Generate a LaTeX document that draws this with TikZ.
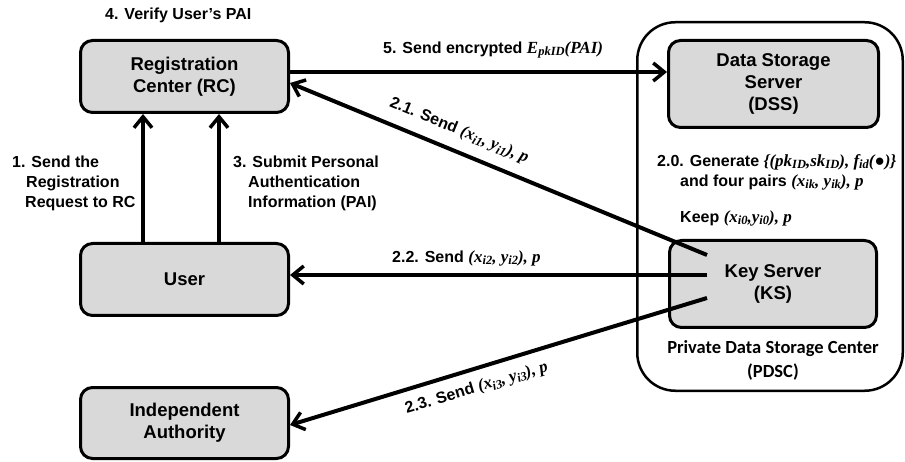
\documentclass[tikz,border=0pt]{standalone}
\usepackage{fontspec}
\setmainfont{Liberation Sans}
\newfontfamily\tms{Liberation Serif}
\newfontfamily\calib{Carlito}[BoldFont={Carlito Bold}]
\usetikzlibrary{arrows.meta,calc}
\definecolor{boxgray}{HTML}{D9D9D9}
\newcommand\mth[1]{{\tms\bfseries\itshape\fontsize{17}{20}\selectfont #1}}
\newcommand\sbx[1]{\raisebox{-0.35ex}{\fontsize{12.5}{12.5}\selectfont #1}}
\begin{document}
\begin{tikzpicture}[x=1pt,y=-1pt,
  box/.style={draw, line width=3pt, fill=boxgray, rounded corners=12pt, align=center,
    font=\bfseries\fontsize{18.5}{22}\selectfont, inner sep=0pt},
  arr/.style={line width=4pt, -{Straight Barb[length=11pt,width=18pt,line width=3.5pt]}},
  lbl/.style={font=\bfseries\fontsize{16}{20}\selectfont, align=left, inner sep=0pt, anchor=west},
  slbl/.style={font=\bfseries\fontsize{16}{20}\selectfont, inner sep=0pt, sloped}]
\useasboundingbox (0,0) rectangle (905,462);
% outer container
\node[draw, line width=2.5pt, rounded corners=38pt, minimum width=265.5pt, minimum height=368.5pt, inner sep=0pt] (PDSC) at (770,206.5) {};
% boxes
\node[box, minimum width=208pt, minimum height=72pt] (RC) at (184.5,76.5) {Registration\\Center (RC)};
\node[box, minimum width=208pt, minimum height=72pt] (User) at (184.5,279.5) {User};
\node[box, minimum width=208pt, minimum height=71pt] (IA) at (184.5,423) {Independent\\Authority};
\node[box, minimum width=210pt, minimum height=87pt] (DSS) at (773.5,84) {Data Storage\\Server\\(DSS)};
\node[box, minimum width=207pt, minimum height=87pt] (KS) at (773,284) {Key Server\\(KS)};
\node[font=\calib\bfseries\fontsize{18.5}{24}\selectfont, align=center, inner sep=0pt] (pdscl) at (773,360) {Private Data Storage Center\\(PDSC)};
% coordinates
\coordinate (k1) at (707,255);
\coordinate (k2) at (707,275);
\coordinate (k3) at (707,298);
\coordinate (a1) at (143,0);
\coordinate (a3) at (219,0);
\coordinate (c5) at (0,72);
\coordinate (c21) at (0,83);
\coordinate (c23) at (0,425);
% labels
\node[lbl] (l4) at (105,15) {4. Verify User’s PAI};
\node[lbl] (l1) at (12,183) {1. Send the\\\hspace*{14pt}Registration\\\hspace*{13pt}Request to RC};
\node[lbl] (l3) at (233,183) {3. Submit Personal\\\hspace*{15pt}Authentication\\\hspace*{15pt}Information (PAI)};
\node[lbl] (l5) at (383,50) {5. Send encrypted \mth{E\sbx{pkID}(PAI)}};
\node[lbl] (l22) at (392,258) {2.2. Send \mth{(x\sbx{i2}, y\sbx{i2}), p}};
\node[lbl] (l20) at (657,172) {2.0. Generate \mth{\{(pk\sbx{ID},sk\sbx{ID}), f\sbx{id}(●)\}}\\\hspace*{23pt}and four pairs \mth{(x\sbx{ik}, y\sbx{ik}), p}};
\node[lbl] (lkeep) at (680,218) {Keep \mth{(x\sbx{i0},y\sbx{i0}), p}};
% connectors
\draw[arr] (User.north -| a1) -- (RC.south -| a1);
\draw[arr] (User.north -| a3) -- (RC.south -| a3);
\draw[arr] (RC.east |- c5) -- (DSS.west |- c5);
\draw[arr] (k1) -- (RC.east |- c21) node[slbl, pos=0.613, below=-30pt] (l21) {2.1. Send \mth{(x\sbx{i1}, y\sbx{i1}), p}};
\draw[arr] (k2) -- (User.east |- k2);
\draw[arr] (k3) -- (IA.east |- c23) node[slbl, pos=0.566, above=-29pt] (l23) {2.3. Send \mth{(x\sbx{i3}, y\sbx{i3}), p}};
\end{tikzpicture}
\end{document}
